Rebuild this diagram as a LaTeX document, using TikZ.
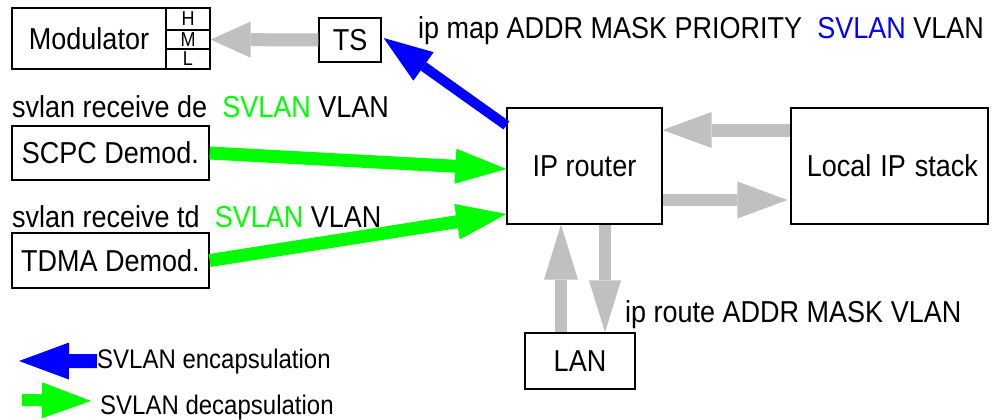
\documentclass[tikz,border=0pt]{standalone}
\usepackage{fontspec}
\usepackage{graphicx}
\setmainfont{Liberation Sans}
\usetikzlibrary{arrows.meta}
\definecolor{gry}{HTML}{C0C0C0}
\definecolor{grn}{HTML}{00FF00}
\definecolor{blu}{HTML}{0000FF}
\newcommand\mainfs{\fontsize{27}{30}\selectfont}
\newcommand\lgdfs{\fontsize{24}{27}\selectfont}
\newcommand\hmlfs{\fontsize{18}{20}\selectfont}
\newcommand\vst[1]{\scalebox{1}[1.12]{#1}}
\begin{document}
\begin{tikzpicture}[x=1pt,y=-1pt,
  box/.style={draw, line width=1.2pt, inner sep=0pt, font=\mainfs},
  hml/.style={draw, line width=1.2pt, inner sep=0pt, font=\hmlfs, minimum width=44pt},
  lbl/.style={inner sep=0pt, anchor=base west, font=\mainfs},
  lgd/.style={inner sep=0pt, anchor=base west, font=\lgdfs},
  blk/.style n args={3}{line width=#1, -{Triangle[length=#2,width=#3,line width=0pt]}}]
\useasboundingbox (0,0) rectangle (993,420);
\fill[white] (0,0) rectangle (993,420);

% boxes
\node[box, minimum width=154pt, minimum height=61pt] (mod) at (89,38.5) {\vst{Modulator}};
\node[hml, minimum height=22pt] (h) at (188,19) {\vst{H}};
\node[hml, minimum height=19pt] (m) at (188,39.5) {\vst{M}};
\node[hml, minimum height=20pt] (l) at (188,59) {\vst{L}};
\node[box, minimum width=62pt, minimum height=44pt] (ts) at (350,40) {\vst{TS}};
\node[box, minimum width=155pt, minimum height=116pt] (router) at (584.5,166) {\vst{IP router}};
\node[box, minimum width=197pt, minimum height=116pt, text width=177pt, align=right] (local) at (889.5,166) {\vst{Local IP stack}};
\node[box, minimum width=110pt, minimum height=56pt] (lan) at (580,361) {\vst{LAN}};
\node[box, minimum width=197pt, minimum height=54pt] (scpc) at (110.5,153) {\vst{SCPC Demod.}};
\node[box, minimum width=197pt, minimum height=55pt] (tdma) at (110.5,260.5) {\vst{TDMA Demod.}};

% labels
\node[lbl] (ipmap) at (418,39) {\vst{ip map ADDR MASK PRIORITY\ \ \textcolor{blu}{SVLAN}\ VLAN}};
\node[lbl] (rcvde) at (12,117) {\vst{svlan receive de\ \ \textcolor{grn}{SVLAN}\ VLAN}};
\node[lbl] (rcvtd) at (12,227) {\vst{svlan receive td\ \ \textcolor{grn}{SVLAN}\ VLAN}};
\node[lbl] (iproute) at (625,322) {\vst{ip route ADDR MASK VLAN}};
\node[lgd] (enc) at (97,368) {\vst{SVLAN encapsulation}};
\node[lgd] (dec) at (100,414) {\vst{SVLAN decapsulation}};
\coordinate (enctip) at (19,361);
\coordinate (dectail) at (22,400);
\coordinate (dectip) at (91,401);

% gray arrows
\draw[gry, blk={13pt}{40pt}{36pt}] (ts.west) -- (m.east);
\draw[gry, blk={13pt}{49pt}{36pt}] ([yshift=36pt]local.west) -- ([yshift=36pt]router.east);
\draw[gry, blk={12pt}{50pt}{37pt}] ([yshift=-34pt]router.east) -- ([yshift=-34pt,xshift=-3pt]local.west);
\draw[gry, blk={12pt}{55pt}{34pt}] ([xshift=-19pt]lan.north) -- ([xshift=-19pt]lan.north |- router.south);
\draw[gry, blk={12pt}{52pt}{32pt}] ([xshift=20.5pt]router.south) -- ([xshift=20.5pt]router.south |- lan.north);

% blue / green arrows
\draw[blu, blk={10pt}{49pt}{35pt}] ([yshift=-18pt]router.north west) -- ([xshift=2pt,yshift=2pt]ts.east);
\draw[grn, blk={13pt}{51pt}{35pt}] (scpc.east) -- ([yshift=-3pt]router.west);
\draw[grn, blk={13pt}{50pt}{36pt}] (tdma.east) -- ([yshift=-48pt]router.west);

% legend arrows
\draw[blu, blk={14pt}{50pt}{37pt}] (enc.west) -- (enctip);
\draw[grn, blk={12pt}{49pt}{36pt}] (dectail) -- (dectip);
\end{tikzpicture}
\end{document}
